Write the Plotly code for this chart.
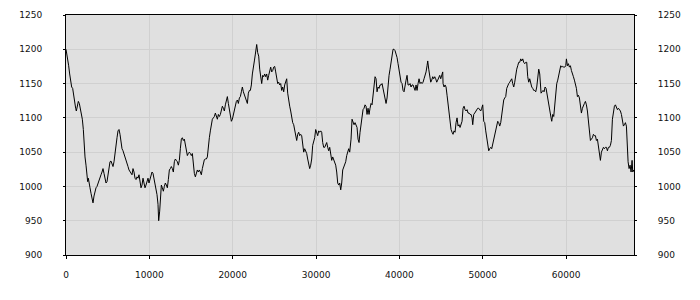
import plotly.graph_objects as go

x_vals = [0, 80, 200, 320, 440, 560, 680, 800, 920, 1040, 1160, 1240, 1360, 1480, 1600, 1720, 1840, 1960, 2080, 2160,
          2280, 2400, 2520, 2600, 2680, 2760, 2880, 3000, 3120, 3240, 3360, 3480, 3600, 3720, 3840, 3960, 4080, 4200,
          4320, 4440, 4560, 4680, 4800, 4920, 5040, 5160, 5280, 5400, 5520, 5640, 5760, 5880, 6000, 6120, 6240, 6360,
          6480, 6600, 6720, 6840, 6960, 7080, 7200, 7320, 7440, 7560, 7680, 7800, 7920, 8040, 8160, 8280, 8400, 8520,
          8640, 8760, 8880, 9000, 9120, 9240, 9360, 9480, 9600, 9720, 9840, 9960, 10080, 10200, 10320, 10440, 10560,
          10680, 10800, 10920, 11040,
          11120, 11240, 11320, 11440, 11560, 11680, 11800, 11920, 12040, 12160, 12280, 12400, 12520, 12640, 12760,
          12880, 13000, 13120, 13240, 13360, 13480, 13600, 13720, 13840, 13960, 14080, 14200, 14320, 14440, 14560,
          14680, 14800, 14920, 15040, 15160, 15280, 15400, 15520, 15640, 15760, 15880, 16000, 16120, 16240, 16360,
          16480, 16600, 16720, 16840, 16960, 17080, 17200, 17320, 17440, 17560, 17680, 17800, 17920, 18040, 18160,
          18280, 18400, 18520, 18640, 18760, 18880, 19000, 19120, 19240, 19360, 19480, 19600, 19720, 19840, 19960,
          20080, 20200, 20320, 20440, 20560, 20680, 20800, 20920, 21040, 21160, 21280, 21400, 21520, 21640, 21760,
          21880, 22000, 22120, 22240, 22360, 22480, 22600, 22720, 22840,
          22880, 23000, 23120, 23240, 23360, 23480, 23600, 23720, 23840, 23960, 24080, 24200, 24320, 24440, 24560,
          24680, 24800, 24920, 25040, 25160, 25280, 25400, 25520, 25640, 25760, 25880, 26000, 26120, 26240, 26360,
          26480, 26600, 26720, 26840, 26960, 27080, 27200, 27320, 27440, 27560, 27680, 27800, 27920, 28040, 28160,
          28280, 28400, 28520, 28640, 28760, 28880, 29000, 29120, 29240, 29360, 29480, 29600, 29720, 29840, 29960,
          30080, 30200, 30320, 30440, 30560, 30680, 30800, 30920, 31040, 31160, 31280, 31400, 31520, 31640, 31760,
          31880, 32000, 32120, 32240, 32360, 32480, 32600, 32720, 32840, 32960, 33080, 33200, 33320, 33440, 33560,
          33680, 33800, 33920, 34040, 34160,
          34200, 34320, 34440, 34560, 34680, 34800, 34920, 35040, 35160, 35280, 35400, 35520, 35640, 35760, 35880,
          36000, 36120, 36240, 36360, 36480, 36600, 36720, 36840, 36960, 37080, 37200, 37320, 37440, 37560, 37680,
          37800, 37920, 38040, 38160, 38280, 38400, 38520, 38640, 38760, 38880, 39000, 39120, 39240, 39360, 39480,
          39600, 39720, 39840, 39960, 40080, 40200, 40320, 40440, 40560, 40680, 40800, 40920, 41040, 41160, 41280,
          41400, 41520, 41640, 41760, 41880, 42000, 42120, 42240, 42360, 42480, 42600, 42720, 42840, 42960, 43080,
          43200, 43320, 43400, 43520, 43640, 43760, 43880, 44000, 44120, 44240, 44360, 44480, 44600, 44720, 44840,
          44960, 45080, 45200,
          45240, 45360, 45480, 45600, 45720, 45840, 45960, 46080, 46200, 46320, 46440, 46560, 46680, 46800, 46920,
          47040, 47160, 47280, 47400, 47520, 47640, 47760, 47880, 48000, 48120, 48240, 48360, 48480, 48600, 48720,
          48800, 48920, 49040, 49160, 49280, 49400, 49520, 49640, 49760, 49880, 50000, 50120, 50240, 50360, 50480,
          50600, 50720, 50840, 50960, 51080, 51200, 51320, 51440, 51560, 51680, 51800, 51920, 52040, 52160, 52280,
          52400, 52520, 52640, 52760, 52880, 53000, 53120, 53240, 53360, 53480, 53600, 53720, 53840, 53960, 54080,
          54200, 54320, 54440, 54560, 54680, 54800, 54920, 55040, 55160, 55280, 55400, 55520, 55640, 55760, 55880,
          56000, 56120, 56240, 56360, 56480, 56600, 56720, 56840, 56960,
          57000, 57120, 57240, 57360, 57480, 57600, 57720, 57840, 57960, 58080, 58200, 58280, 58400, 58520, 58640,
          58760, 58880, 59000, 59120, 59240, 59360, 59480, 59600, 59720, 59840, 59960, 60040, 60160, 60280, 60400,
          60520, 60640, 60760, 60880, 61000, 61120, 61240, 61360, 61480, 61600, 61720, 61840, 61960, 62080, 62200,
          62320, 62440, 62560, 62680, 62800, 62920, 63040, 63160, 63280, 63400, 63520, 63640, 63760, 63880, 64000,
          64120, 64240, 64360, 64480, 64600, 64720, 64840, 64960, 65080, 65200, 65320, 65440, 65560, 65680, 65800,
          65920, 66040, 66160, 66280, 66400, 66520, 66640, 66760, 66880, 67000, 67120, 67240, 67320, 67440, 67560,
          67680, 67800, 67920, 68000, 68120]

y_vals = [1200, 1195, 1188, 1176, 1164, 1152, 1145, 1143, 1131, 1121, 1114, 1110, 1121, 1124, 1121, 1114, 1107, 1098, 1083, 1060,
          1043, 1031, 1017, 1007, 1012, 1002, 998, 990, 983, 976, 986, 993, 998, 1000, 1005, 1010, 1014, 1017,
          1021, 1026, 1019, 1012, 1005, 1007, 1017, 1031, 1036, 1037, 1033, 1029, 1036, 1050, 1062, 1071, 1081, 1083,
          1076, 1064, 1055, 1052, 1048, 1043, 1040, 1036, 1029, 1024, 1021, 1019, 1017, 1026, 1021, 1012, 1010, 1014,
          1012, 1017, 1007, 998, 1002, 1012, 1005, 998, 1002, 1010, 1012, 1005, 1010, 1017, 1021, 1019, 1012,
          1007, 998, 988, 974,
          950, 964, 988, 1002, 998, 993, 1000, 1005, 1002, 998, 1010, 1024, 1026, 1029, 1026,
          1021, 1036, 1040, 1038, 1036, 1031, 1038, 1055, 1069, 1071, 1067, 1069, 1060, 1048, 1045,
          1048, 1050, 1048, 1045, 1048, 1026, 1019, 1014, 1021, 1024, 1021, 1024, 1021, 1017, 1026,
          1036, 1039, 1040, 1040, 1043, 1060, 1071, 1081, 1093, 1098, 1100, 1102, 1107, 1102, 1098,
          1105, 1102, 1105, 1110, 1117, 1114, 1110, 1119, 1124, 1131, 1121, 1112, 1102, 1095, 1098,
          1105, 1112, 1119, 1124, 1126, 1121, 1129, 1131, 1138, 1145, 1138, 1133, 1129, 1126, 1121,
          1136, 1140, 1140, 1148, 1164, 1179, 1183, 1193, 1205,
          1207, 1195, 1190, 1171, 1160, 1150, 1162, 1160, 1164, 1160, 1164, 1155, 1162, 1169, 1174,
          1167, 1169, 1174, 1175, 1167, 1157, 1150, 1152, 1148, 1150, 1140, 1145, 1138, 1148, 1155,
          1157, 1136, 1124, 1117, 1110, 1100, 1093, 1090, 1081, 1076, 1067, 1076, 1079, 1074, 1076,
          1074, 1060, 1050, 1055, 1052, 1048, 1040, 1033, 1026, 1031, 1040, 1060, 1064, 1071, 1083,
          1079, 1074, 1081, 1079, 1081, 1079, 1064, 1057, 1057, 1062, 1064, 1057, 1052, 1057, 1048,
          1038, 1043, 1038, 1033, 1031, 1021, 1005, 1002, 1005, 995, 1005, 1024, 1029, 1031, 1036,
          1045, 1052, 1055, 1050, 1064,
          1069, 1098, 1095, 1090, 1093, 1088, 1086, 1069, 1064, 1079, 1090, 1105, 1112, 1114, 1119,
          1117, 1105, 1114, 1105, 1114, 1121, 1119, 1136, 1150, 1160, 1157, 1138, 1145, 1143, 1148,
          1148, 1150, 1143, 1140, 1133, 1121, 1129, 1150, 1162, 1171, 1181, 1193, 1200, 1200, 1198,
          1193, 1188, 1179, 1169, 1157, 1152, 1150, 1140, 1138, 1150, 1155, 1162, 1148, 1148, 1150,
          1145, 1148, 1148, 1145, 1140, 1148, 1140, 1150, 1157, 1150, 1152, 1150, 1152, 1157, 1162,
          1167, 1176, 1183, 1171, 1160, 1152, 1155, 1160, 1157, 1160, 1157, 1152, 1155, 1160, 1162,
          1157, 1164, 1167,
          1150, 1145, 1148, 1145, 1133, 1121, 1107, 1093, 1083, 1079, 1076, 1081, 1079, 1093, 1100,
          1088, 1090, 1086, 1090, 1095, 1114, 1117, 1112, 1110, 1112, 1107, 1107, 1105, 1105, 1100,
          1090, 1105, 1107, 1110, 1112, 1114, 1114, 1112, 1110, 1114, 1119, 1095, 1093, 1081, 1069,
          1057, 1052, 1055, 1057, 1055, 1062, 1069, 1074, 1081, 1088, 1095, 1093, 1088, 1093, 1107,
          1119, 1126, 1129, 1131, 1143, 1148, 1150, 1152, 1155, 1157, 1150, 1145, 1152, 1164, 1171,
          1176, 1181, 1181, 1186, 1183, 1186, 1181, 1179, 1181, 1181, 1160, 1152, 1157, 1148, 1145,
          1143, 1140, 1140, 1138, 1145, 1160, 1171, 1164, 1150,
          1136, 1138, 1140, 1138, 1145, 1143, 1133, 1126, 1119, 1110, 1100, 1095, 1105, 1102, 1119,
          1133, 1150, 1155, 1164, 1171, 1176, 1174, 1175, 1174, 1174, 1176, 1186, 1176, 1179, 1174,
          1176, 1169, 1162, 1160, 1155, 1150, 1143, 1131, 1133, 1129, 1121, 1107, 1114, 1119, 1121,
          1124, 1119, 1110, 1095, 1079, 1067, 1069, 1071, 1076, 1074, 1074, 1067, 1069, 1057, 1045,
          1038, 1050, 1055, 1057, 1055, 1057, 1057, 1052, 1057, 1057, 1060, 1067, 1098, 1107, 1117,
          1119, 1114, 1112, 1114, 1112, 1110, 1105, 1095, 1088, 1090, 1093, 1088, 1055, 1036, 1026,
          1031, 1021, 1038, 1021, 1024]

y_ticks = [900, 950, 1000, 1050, 1100, 1150, 1200, 1250]
x_ticks = [0, 10000, 20000, 30000, 40000, 50000, 60000]

tick_font = dict(family="DejaVu Sans, Verdana, sans-serif", size=9, color="#111111")

fig = go.Figure()
fig.add_trace(go.Scatter(x=x_vals, y=y_vals, mode="lines",
                         line=dict(color="#000000", width=1), showlegend=False, hoverinfo="skip"))
fig.add_trace(go.Scatter(x=[x_vals[0]], y=[y_vals[0]], yaxis="y2", mode="lines",
                         line=dict(width=0), showlegend=False, hoverinfo="skip"))

fig.update_layout(
    width=700, height=300,
    margin=dict(l=66, r=66, t=10, b=45),
    paper_bgcolor="#ffffff",
    plot_bgcolor="#e0e0e0",
    xaxis=dict(range=[0, 68150], tickvals=x_ticks, ticktext=[str(v) for v in x_ticks],
               showgrid=True, gridcolor="#d0d0d0", gridwidth=1, zeroline=False,
               showline=True, linecolor="#000000", linewidth=1, mirror=True,
               ticks="outside", ticklen=3, tickcolor="#000000",
               tickfont=tick_font, ticklabelstandoff=8),
    yaxis=dict(range=[900, 1250], tickvals=y_ticks, showgrid=True, gridcolor="#d0d0d0", gridwidth=1,
               zeroline=False, showline=True, linecolor="#000000", linewidth=1,
               ticks="outside", ticklen=2, tickcolor="#000000", tickfont=tick_font,
               ticklabelstandoff=19),
    yaxis2=dict(range=[900, 1250], tickvals=y_ticks, overlaying="y", side="right",
                showgrid=False, zeroline=False, showline=True, linecolor="#000000", linewidth=1,
                ticks="outside", ticklen=2, tickcolor="#000000", tickfont=tick_font,
                ticklabelstandoff=19),
)

fig.write_html("out.html")
